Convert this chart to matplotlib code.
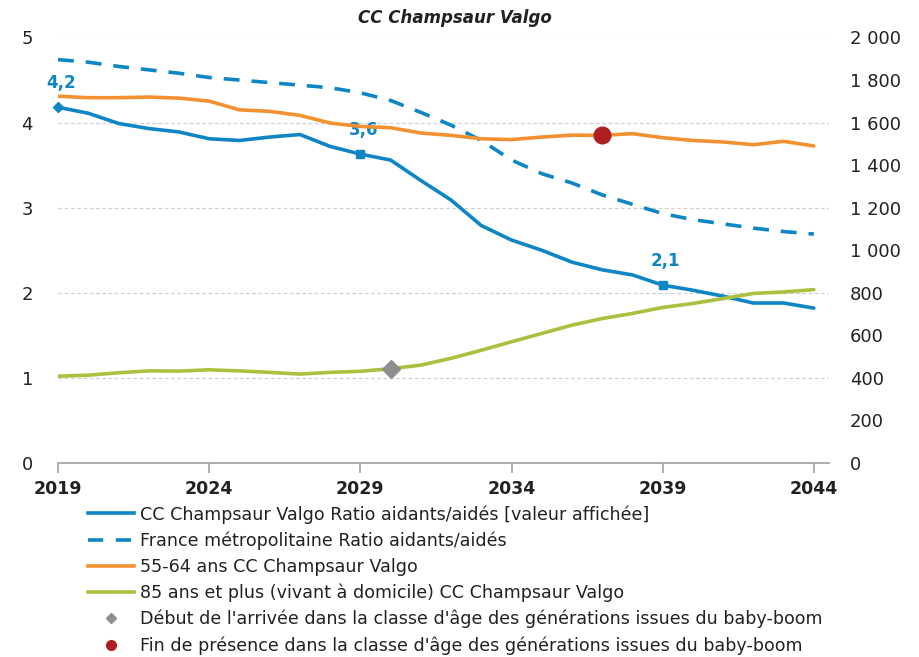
import matplotlib
matplotlib.use("Agg")
import matplotlib.pyplot as plt
from matplotlib.lines import Line2D
from matplotlib.ticker import FuncFormatter, FixedLocator

plt.rcParams['font.family'] = ['DejaVu Sans']

years = list(range(2019, 2045))

ratio_cc = [4.18, 4.11, 3.99, 3.93, 3.89, 3.81, 3.79, 3.83, 3.86, 3.72,
            3.63, 3.56, 3.32, 3.09, 2.79, 2.62, 2.50, 2.36, 2.27, 2.21,
            2.09, 2.03, 1.96, 1.88, 1.88, 1.82]
ratio_fr = [4.74, 4.71, 4.66, 4.62, 4.58, 4.53, 4.50, 4.47, 4.44, 4.41,
            4.35, 4.26, 4.12, 3.97, 3.79, 3.56, 3.40, 3.29, 3.15, 3.04,
            2.93, 2.86, 2.81, 2.76, 2.72, 2.69]
pop_55_64 = [1724, 1717, 1717, 1720, 1715, 1701, 1660, 1653, 1634, 1598,
             1582, 1576, 1551, 1540, 1524, 1520, 1532, 1541, 1540, 1548,
             1529, 1516, 1509, 1496, 1512, 1490]
pop_85p = [408, 413, 424, 433, 432, 438, 433, 426, 418, 426,
           431, 443, 460, 492, 530, 570, 609, 648, 679, 703,
           731, 750, 773, 797, 804, 815]

labelled_years = [2019, 2029, 2039]
labelled_values = ["4,2", "3,6", "2,1"]
boom_start_year = 2030
boom_end_year = 2037

left_ticks = [0, 1, 2, 3, 4, 5]
right_ticks = [0, 200, 400, 600, 800, 1000, 1200, 1400, 1600, 1800, 2000]
x_ticks = [2019, 2024, 2029, 2034, 2039, 2044]

BLUE = "#0E86C4"
ORANGE = "#F39130"
GREEN = "#A9C13E"
RED = "#B01E24"
GREY = "#8E8E8E"
TXT = "#222222"

fig = plt.figure(figsize=(9.19, 6.57), dpi=100)
ax = fig.add_axes([58 / 919, 1 - 463 / 657, (829 - 58) / 919, (463 - 37.5) / 657])
ax2 = ax.twinx()

ax.set_xlim(2019, 2044.5)
ax.set_ylim(0, 5)
ax2.set_ylim(0, 2000)

# grid on the left scale
for v in left_ticks[1:]:
    ax.axhline(v, color="#D0D0D0", lw=0.9, ls=(0, (3, 2)), zorder=0)

ax.plot(years, ratio_fr, color=BLUE, lw=2.6, ls=(0, (4.4, 3.3)),
        dash_capstyle="butt", zorder=3)
ax.plot(years, ratio_cc, color=BLUE, lw=2.6, solid_joinstyle="round",
        solid_capstyle="round", zorder=4)
ax2.plot(years, pop_55_64, color=ORANGE, lw=2.6, solid_joinstyle="round",
         solid_capstyle="round", zorder=3)
ax2.plot(years, pop_85p, color=GREEN, lw=2.6, solid_joinstyle="round",
         solid_capstyle="round", zorder=3)

# labelled points on the local ratio
for yr, txt in zip(labelled_years, labelled_values):
    v = ratio_cc[years.index(yr)]
    mk = "D" if yr == 2019 else "s"
    ax.plot([yr], [v], marker=mk, color=BLUE, ms=6 if mk == "s" else 5,
             zorder=5, clip_on=False)
    ax.annotate(txt, (yr, v), xytext=(2, 11), textcoords="offset points",
                ha="center", va="bottom", color=BLUE, fontsize=12,
                fontweight="bold")

# baby-boom markers
ax2.plot([boom_start_year], [pop_85p[years.index(boom_start_year)]],
         marker="D", color=GREY, ms=9, zorder=6, ls="none")
ax2.plot([boom_end_year], [pop_55_64[years.index(boom_end_year)]],
         marker="o", color=RED, ms=12, zorder=6, ls="none")

# axes styling
for s in ["top", "left", "right"]:
    ax.spines[s].set_visible(False)
    ax2.spines[s].set_visible(False)
ax2.spines["bottom"].set_visible(False)
ax.spines["bottom"].set_color("#A0A0A0")
ax.spines["bottom"].set_linewidth(1.2)

ax.xaxis.set_major_locator(FixedLocator(x_ticks))
ax.set_xticklabels([str(x) for x in x_ticks])
ax.tick_params(axis="x", direction="out", length=7, width=1.2,
               color="#A0A0A0", pad=5, labelsize=12.5, labelcolor=TXT)
for lab in ax.get_xticklabels():
    lab.set_fontweight("bold")

ax.yaxis.set_major_locator(FixedLocator(left_ticks))
ax.tick_params(axis="y", length=0, pad=18, labelsize=13, labelcolor=TXT)
ax2.yaxis.set_major_locator(FixedLocator(right_ticks))
ax2.yaxis.set_major_formatter(FuncFormatter(
    lambda v, p: f"{int(v):,}".replace(",", " ")))
ax2.tick_params(axis="y", length=0, pad=15, labelsize=13, labelcolor=TXT)

fig.text(455 / 919, 1 - 18 / 657, "CC Champsaur Valgo", ha="center",
         va="center", fontsize=12, fontweight="bold", fontstyle="italic",
         color=TXT)

handles = [
    Line2D([], [], color=BLUE, lw=2.6),
    Line2D([], [], color=BLUE, lw=2.6, ls=(0, (4.2, 3.5))),
    Line2D([], [], color=ORANGE, lw=2.6),
    Line2D([], [], color=GREEN, lw=2.6),
    Line2D([], [], color=GREY, marker="D", ms=5, ls="none"),
    Line2D([], [], color=RED, marker="o", ms=7, ls="none"),
]
labels = [
    "CC Champsaur Valgo Ratio aidants/aidés [valeur affichée]",
    "France métropolitaine Ratio aidants/aidés",
    "55-64 ans CC Champsaur Valgo",
    "85 ans et plus (vivant à domicile) CC Champsaur Valgo",
    "Début de l'arrivée dans la classe d'âge des générations issues du baby-boom",
    "Fin de présence dans la classe d'âge des générations issues du baby-boom",
]
leg = fig.legend(handles, labels, loc="upper left",
                 bbox_to_anchor=(88 / 919, 1 - 505 / 657), frameon=False,
                 prop={"family": "DejaVu Sans", "size": 12.6},
                 handlelength=2.6, handletextpad=0.35,
                 labelspacing=0.45, borderaxespad=0, borderpad=0)
for t in leg.get_texts():
    t.set_color(TXT)

fig.savefig("out.png", dpi=100)
